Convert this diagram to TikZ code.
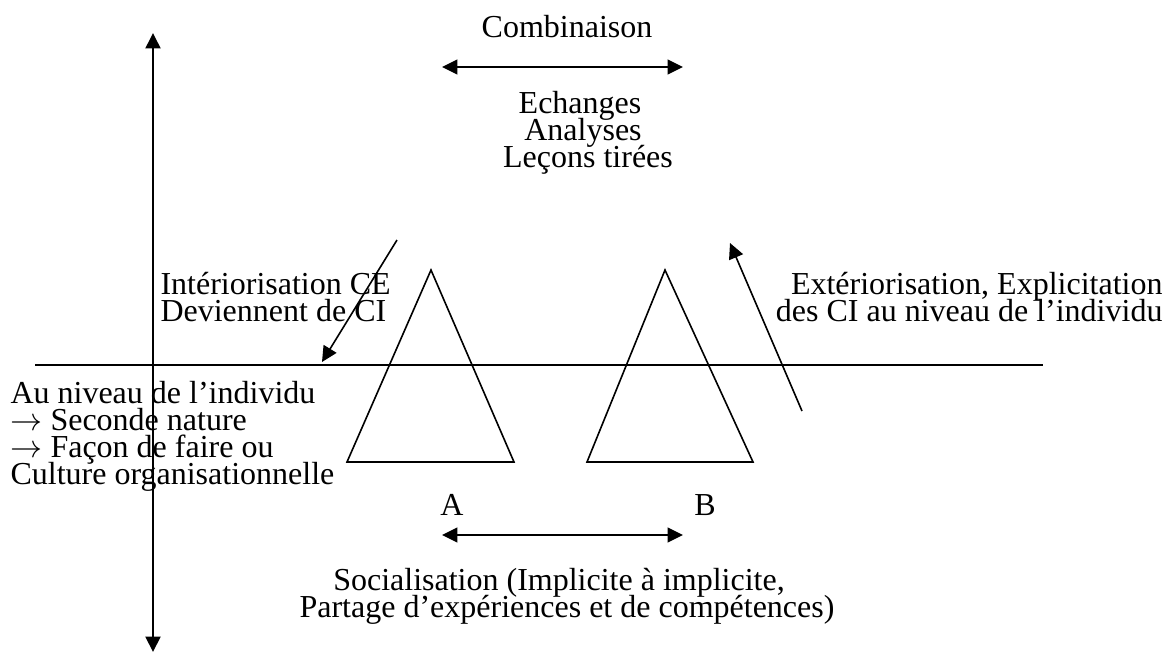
\documentclass[tikz,border=0pt]{standalone}
\usepackage{fontspec}
\setmainfont{Liberation Serif}
\usetikzlibrary{arrows.meta}

\tikzset{
  trait/.style={line width=0.6pt},
  fleche/.style={line width=0.6pt,-{Triangle[length=5.8pt,width=5.6pt]}},
  dfleche/.style={line width=0.6pt,{Triangle[length=5.8pt,width=5.6pt]}-{Triangle[length=5.8pt,width=5.6pt]}},
  txt/.style={inner sep=0pt,font=\fontsize{12}{10}\selectfont}
}

\begin{document}
\begin{tikzpicture}[x=0.375pt,y=-0.375pt]
\useasboundingbox (0,0) rectangle (1175,655);

% axes
\coordinate (haut) at (153,33);
\coordinate (bas) at (153,652);
\draw[dfleche,line width=0.8pt] (bas) -- (haut);
\coordinate (lg) at (35,365);
\coordinate (ld) at (1043,365);
\draw[trait] (lg) -- (ld);

% triangles A et B
\draw[trait] (431,270) -- (347,462) -- (514,462) -- cycle;
\draw[trait] (665,270) -- (587,462) -- (753,462) -- cycle;
\node[txt,anchor=base] (A) at (452,515) {A};
\node[txt,anchor=base] (B) at (705,515) {B};

% combinaison
\node[txt,anchor=base] (comb) at (567,37) {Combinaison};
\coordinate (c1) at (442,67);
\coordinate (c2) at (683,67);
\draw[dfleche] (c1) -- (c2);
\node[txt,anchor=base] (ech) at (580,113) {Echanges};
\node[txt,anchor=base] (ana) at (583,140) {Analyses};
\node[txt,anchor=base] (lec) at (588,167) {Leçons tirées};

% interiorisation
\coordinate (i1) at (397,240);
\coordinate (i2) at (322,362);
\draw[fleche] (i1) -- (i2);
\node[txt,anchor=base west] (int1) at (160,294) {Intériorisation CE};
\node[txt,anchor=base west] (int2) at (160,321) {Deviennent de CI};

% exteriorisation
\coordinate (e1) at (802,411);
\coordinate (e2) at (730,243);
\draw[fleche] (e1) -- (e2);
\node[txt,anchor=base east] (ext1) at (1163,294) {Extériorisation, Explicitation};
\node[txt,anchor=base east] (ext2) at (1163,321) {des CI au niveau de l’individu};

% niveau individu
\node[txt,anchor=base west] (niv1) at (10,403) {Au niveau de l’individu};
\node[txt,anchor=base west] (niv2) at (10,430) {$\rightarrow$ Seconde nature};
\node[txt,anchor=base west] (niv3) at (10,457) {$\rightarrow$ Façon de faire ou};
\node[txt,anchor=base west] (niv4) at (10,484) {Culture organisationnelle};

% socialisation
\coordinate (s1) at (442,535);
\coordinate (s2) at (683,535);
\draw[dfleche] (s1) -- (s2);
\node[txt,anchor=base] (soc1) at (559,590) {Socialisation (Implicite à implicite,};
\node[txt,anchor=base] (soc2) at (567,617) {Partage d’expériences et de compétences)};
\end{tikzpicture}
\end{document}
